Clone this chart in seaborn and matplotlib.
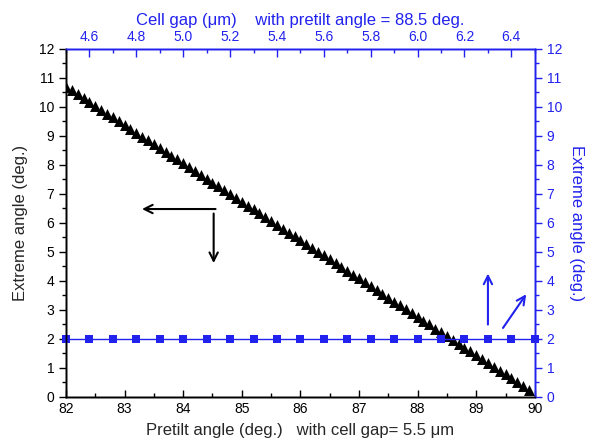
import matplotlib
matplotlib.use("Agg")
import matplotlib.pyplot as plt
import seaborn as sns
import pandas as pd
from matplotlib.ticker import MultipleLocator

# extreme angle vs pretilt angle (cell gap 5.5 um)
pretilt = [round(82.0 + 0.1 * i, 1) for i in range(80)]
extreme_pretilt = [
    10.70, 10.57, 10.44, 10.30, 10.17, 10.04, 9.91, 9.77, 9.64, 9.51,
    9.38, 9.25, 9.11, 8.98, 8.85, 8.72, 8.58, 8.45, 8.32, 8.19,
    8.05, 7.92, 7.79, 7.66, 7.52, 7.39, 7.26, 7.13, 7.00, 6.86,
    6.73, 6.60, 6.47, 6.33, 6.20, 6.07, 5.94, 5.80, 5.67, 5.54,
    5.41, 5.28, 5.14, 5.01, 4.88, 4.75, 4.61, 4.48, 4.35, 4.22,
    4.09, 3.95, 3.82, 3.69, 3.56, 3.42, 3.29, 3.16, 3.03, 2.89,
    2.76, 2.63, 2.50, 2.36, 2.23, 2.10, 1.97, 1.84, 1.70, 1.57,
    1.44, 1.31, 1.17, 1.04, 0.91, 0.78, 0.64, 0.51, 0.38, 0.25,
]

# extreme angle vs cell gap (pretilt 88.5 deg)
cell_gap = [4.5, 4.6, 4.7, 4.8, 4.9, 5.0, 5.1, 5.2, 5.3, 5.4, 5.5,
            5.6, 5.7, 5.8, 5.9, 6.0, 6.1, 6.2, 6.3, 6.4, 6.5]
extreme_gap = [2.0] * len(cell_gap)

top_ticks = [4.6, 4.8, 5.0, 5.2, 5.4, 5.6, 5.8, 6.0, 6.2, 6.4]

BLUE = "#2222ee"

df1 = pd.DataFrame({"pretilt": pretilt, "extreme": extreme_pretilt})
df2 = pd.DataFrame({"gap": cell_gap, "extreme": extreme_gap})

sns.set_style("white")
plt.rcParams["font.family"] = ["Liberation Sans", "DejaVu Sans"]

fig = plt.figure(figsize=(5.89, 4.45), dpi=100)
ax = fig.add_axes([0.112, 0.108, 0.796, 0.782])
ax_top = ax.twiny()
ax_r = ax.twinx()

sns.scatterplot(data=df1, x="pretilt", y="extreme", marker="^", s=62,
                color="black", edgecolor="black", linewidth=0, ax=ax, zorder=3)

sns.lineplot(data=df2, x="gap", y="extreme", color=BLUE, lw=1.0,
             marker="s", markersize=6, markeredgewidth=0, ax=ax_top, clip_on=False)

ax.set_xlim(82, 90)
ax.set_ylim(0, 12)
ax_top.set_xlim(4.5, 6.5)
ax_top.set_ylim(0, 12)
ax_r.set_ylim(0, 12)

ax.xaxis.set_major_locator(MultipleLocator(1))
ax.xaxis.set_minor_locator(MultipleLocator(0.5))
ax.yaxis.set_major_locator(MultipleLocator(1))
ax.yaxis.set_minor_locator(MultipleLocator(0.5))
ax_top.set_xticks(top_ticks)
ax_top.set_xticklabels([f"{t:.1f}" for t in top_ticks])
ax_top.xaxis.set_minor_locator(MultipleLocator(0.1))
ax_r.yaxis.set_major_locator(MultipleLocator(1))
ax_r.yaxis.set_minor_locator(MultipleLocator(0.5))

ax.tick_params(axis="x", which="both", direction="in", colors="black", labelsize=10)
ax.tick_params(axis="x", which="major", length=5, width=1)
ax.tick_params(axis="x", which="minor", length=3, width=1)
ax.tick_params(axis="y", which="both", direction="out", colors="black", labelsize=10)
ax.tick_params(axis="y", which="major", length=5, width=1)
ax.tick_params(axis="y", which="minor", length=3, width=1)

ax_top.tick_params(axis="x", which="both", direction="in", colors=BLUE, labelsize=10)
ax_top.tick_params(axis="x", which="major", length=6, width=1)
ax_top.tick_params(axis="x", which="minor", length=3, width=1)
ax_top.tick_params(axis="y", left=False, labelleft=False)

ax_r.tick_params(axis="y", which="both", direction="out", colors=BLUE, labelsize=10)
ax_r.tick_params(axis="y", which="major", length=5, width=1)
ax_r.tick_params(axis="y", which="minor", length=3, width=1)

for a in (ax, ax_top, ax_r):
    a.spines["left"].set_color("black")
    a.spines["bottom"].set_color("black")
    a.spines["top"].set_color(BLUE)
    a.spines["right"].set_color(BLUE)
    for s in a.spines.values():
        s.set_linewidth(1.0)

ax.set_xlabel("Pretilt angle (deg.)   with cell gap= 5.5 \u03bcm", fontsize=12, labelpad=5)
ax.set_ylabel("Extreme angle (deg.)", fontsize=12, labelpad=8)
ax_top.set_xlabel("Cell gap (\u03bcm)    with pretilt angle = 88.5 deg.",
                  fontsize=12, color=BLUE, labelpad=4)
ax_r.set_ylabel("Extreme angle (deg.)", fontsize=12, color=BLUE,
                rotation=270, labelpad=16)

# direction arrows
ax.annotate("", xy=(83.25, 6.48), xytext=(84.6, 6.48),
            arrowprops=dict(arrowstyle="->", color="black", lw=1.5, mutation_scale=15))
ax.annotate("", xy=(84.52, 4.52), xytext=(84.52, 6.42),
            arrowprops=dict(arrowstyle="->", color="black", lw=1.5, mutation_scale=15))
ax.annotate("", xy=(89.2, 4.35), xytext=(89.2, 2.4),
            arrowprops=dict(arrowstyle="->", color=BLUE, lw=1.5, mutation_scale=15))
ax.annotate("", xy=(89.88, 3.62), xytext=(89.43, 2.3),
            arrowprops=dict(arrowstyle="->", color=BLUE, lw=1.5, mutation_scale=15))

fig.savefig("out.png", dpi=100)
